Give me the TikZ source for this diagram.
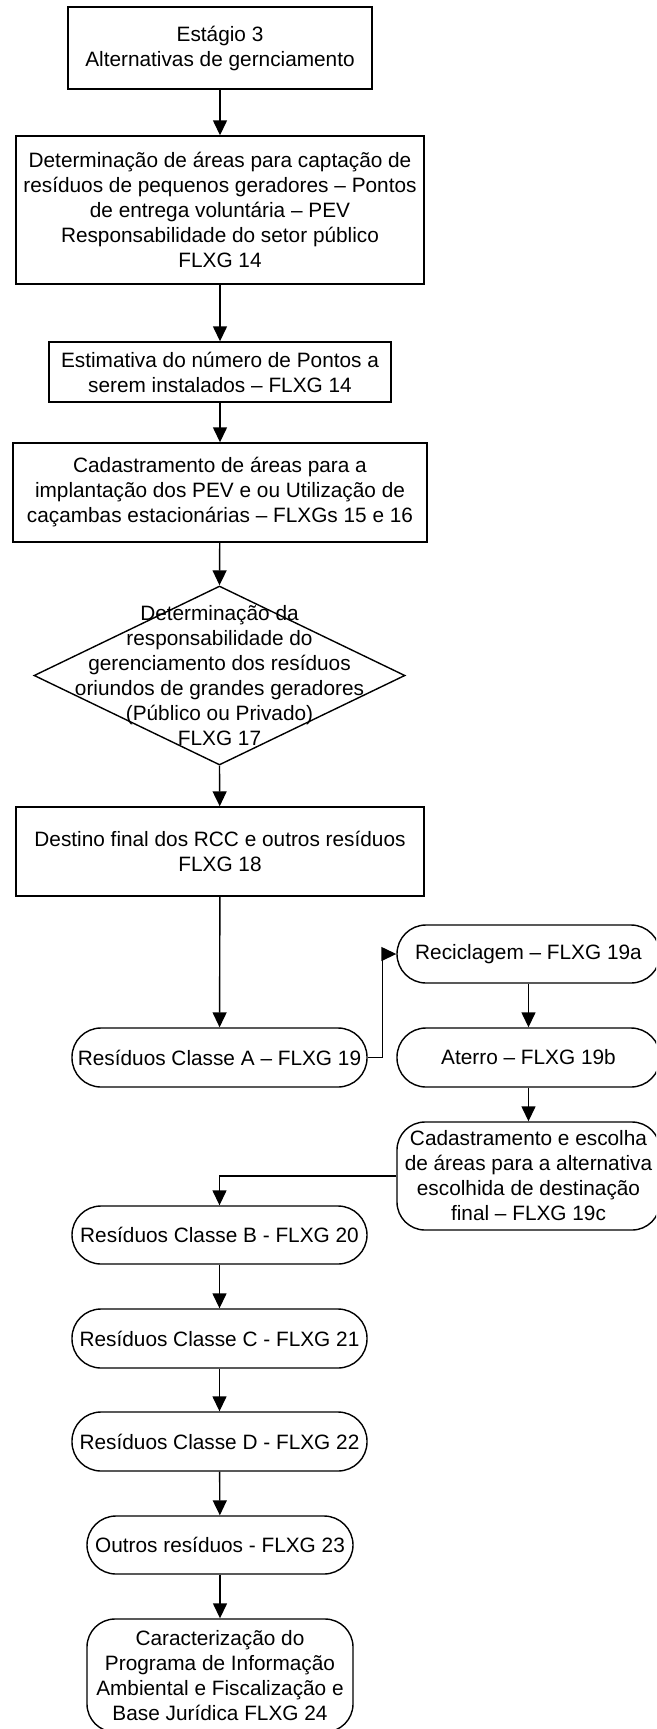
\documentclass[tikz,border=0pt]{standalone}
\usepackage{fontspec}
\setmainfont{Liberation Sans}
\usetikzlibrary{arrows.meta,shapes.geometric}

\tikzset{
  base/.style={draw, line width=1.4pt, inner sep=0pt, align=center,
    font=\fontsize{20.8}{25}\selectfont},
  procbox/.style={base, rectangle},
  pill/.style={base, rectangle, rounded corners=29pt},
  roundbox/.style={base, rectangle, rounded corners=28pt},
  flow/.style={line width=1.4pt, -{Triangle[length=15pt,width=14pt]}},
}

\begin{document}
\begin{tikzpicture}[x=1pt, y=-1pt]
  \useasboundingbox (0,0) rectangle (656,1729);
  \begin{scope}
  \clip (0,0) rectangle (656,1729);

  % main column
  \node[procbox, minimum width=304pt, minimum height=82pt] (b1) at (220,48)
    {Estágio 3\\Alternativas de gernciamento};
  \node[procbox, minimum width=408pt, minimum height=148pt] (b2) at (220,210)
    {Determinação de áreas para captação de\\resíduos de pequenos geradores – Pontos\\de entrega voluntária – PEV\\Responsabilidade do setor público\\FLXG 14};
  \node[procbox, minimum width=342pt, minimum height=60pt] (b3) at (220,372)
    {Estimativa do número de Pontos a\\serem instalados – FLXG 14};
  \node[procbox, minimum width=414pt, minimum height=99pt] (b4) at (220,492.5)
    {Cadastramento de áreas para a\\implantação dos PEV e ou Utilização de\\caçambas estacionárias – FLXGs 15 e 16};
  \node[diamond, draw, line width=1.4pt, inner sep=0pt,
        minimum width=371pt, minimum height=179pt] (d) at (219.5,675.5) {};
  \node[align=center, inner sep=0pt, font=\fontsize{20.8}{25}\selectfont] (dtext) at (d.center)
    {Determinação da\\responsabilidade do\\gerenciamento dos resíduos\\oriundos de grandes geradores\\(Público ou Privado)\\FLXG 17};
  \node[procbox, minimum width=408pt, minimum height=89pt] (b5) at (220,851.5)
    {Destino final dos RCC e outros resíduos\\FLXG 18};
  \node[pill, minimum width=295pt, minimum height=59pt] (sA) at (219.5,1057.5)
    {Resíduos Classe A – FLXG 19};

  % class A branch
  \node[pill, minimum width=263pt, minimum height=58pt] (rec) at (528.5,954)
    {Reciclagem – FLXG 19a};
  \node[pill, minimum width=263pt, minimum height=59pt] (ater) at (528.5,1057.5)
    {Aterro – FLXG 19b};
  \node[roundbox, minimum width=263pt, minimum height=108pt] (cad) at (528.5,1176)
    {Cadastramento e escolha\\de áreas para a alternativa\\escolhida de destinação\\final – FLXG 19c};

  % remaining classes
  \node[pill, minimum width=295pt, minimum height=58pt] (cB) at (219.5,1235)
    {Resíduos Classe B - FLXG 20};
  \node[pill, minimum width=295pt, minimum height=59pt] (cC) at (219.5,1338.5)
    {Resíduos Classe C - FLXG 21};
  \node[pill, minimum width=295pt, minimum height=59pt] (cD) at (219.5,1441.5)
    {Resíduos Classe D - FLXG 22};
  \node[pill, minimum width=266pt, minimum height=58pt] (out) at (220,1545)
    {Outros resíduos - FLXG 23};
  \node[roundbox, minimum width=266pt, minimum height=113pt] (car) at (220,1675.5)
    {Caracterização do\\Programa de Informação\\Ambiental e Fiscalização e\\Base Jurídica FLXG 24};

  % connectors
  \draw[flow] (b1) -- (b2);
  \draw[flow] (b2) -- (b3);
  \draw[flow] (b3) -- (b4);
  \draw[flow] (b4) -- (d.north);
  \draw[flow] (d.south) -- (b5);
  \draw[flow] (b5) -- (sA);
  \draw[flow] (sA.east) -- ([xshift=15pt]sA.east) |- (rec.west);
  \draw[flow] (rec) -- (ater);
  \draw[flow] (ater) -- (cad);
  \draw[flow] (cad.west) -| (cB.north);
  \draw[flow] (cB) -- (cC);
  \draw[flow] (cC) -- (cD);
  \draw[flow] (cD) -- (out);
  \draw[flow] (out) -- (car);
  \end{scope}
\end{tikzpicture}
\end{document}
